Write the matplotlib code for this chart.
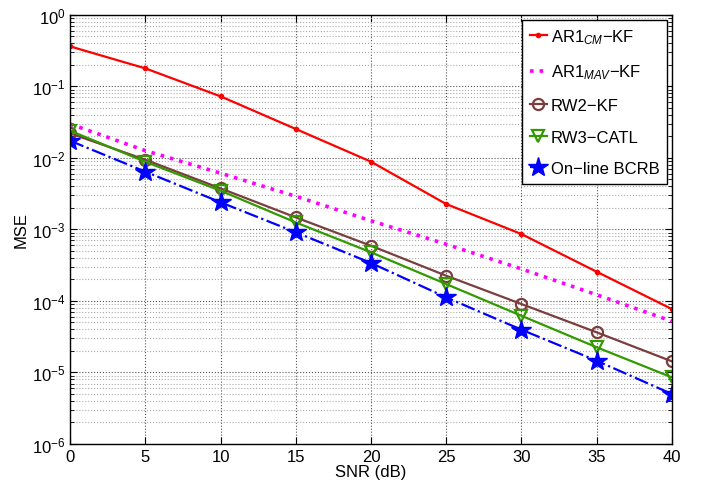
import matplotlib.pyplot as plt
import numpy as np

plt.rcParams['font.family'] = ['Liberation Sans', 'DejaVu Sans']
plt.rcParams['mathtext.fontset'] = 'custom'
plt.rcParams['mathtext.it'] = 'Liberation Sans:italic'
plt.rcParams['mathtext.rm'] = 'Liberation Sans'

# Data
snr = [0, 5, 10, 15, 20, 25, 30, 35, 40]
ar1_cm = [0.361, 0.178, 0.0723, 0.0253, 0.00883, 0.00226, 8.6e-4, 2.56e-4, 7.7e-5]
ar1_mav = [0.0297, 0.0126, 6.1e-3, 2.9e-3, 1.32e-3, 6.2e-4, 2.8e-4, 1.22e-4, 5.2e-5]
rw2_kf = [0.022, 9.4e-3, 3.74e-3, 1.47e-3, 5.9e-4, 2.25e-4, 9.05e-5, 3.64e-5, 1.43e-5]
rw3_catl = [0.0239, 8.8e-3, 3.47e-3, 1.25e-3, 4.78e-4, 1.72e-4, 6.2e-5, 2.25e-5, 8.55e-6]
bcrb = [0.0173, 6.4e-3, 2.39e-3, 9.1e-4, 3.39e-4, 1.12e-4, 3.96e-5, 1.46e-5, 5.0e-6]

fig = plt.figure(figsize=(7.02, 4.85), dpi=100)
ax = fig.add_axes([0.1, 0.0825, 0.857, 0.885])

ax.semilogy(snr, ar1_cm, '-', color='red', lw=1.6, marker='.', ms=6,
            label='AR1$_{CM}$\u2212KF')
ax.semilogy(snr, ar1_mav, ':', color='magenta', lw=2.6,
            label='AR1$_{MAV}$\u2212KF')
ax.semilogy(snr, rw2_kf, '-', color='#7a3e3e', lw=1.6, marker='o', ms=8,
            mfc='none', mew=1.6, label='RW2\u2212KF')
ax.semilogy(snr, rw3_catl, '-', color='#339900', lw=1.6, marker='v', ms=9,
            mfc='none', mew=1.6, label='RW3\u2212CATL')
ax.semilogy(snr, bcrb, '-.', color='blue', lw=1.6, marker='*', ms=15,
            label='On\u2212line BCRB')

ax.set_xlim(0, 40)
ax.set_ylim(1e-6, 1)
ax.set_xticks(snr)
ax.set_xlabel('SNR (dB)', fontsize=12, labelpad=0)
ax.set_ylabel('MSE', fontsize=12, labelpad=2)
ax.tick_params(which='both', direction='in', top=True, right=True, labelsize=12)
ax.tick_params(which='major', length=5)
ax.tick_params(which='minor', length=3)

ax.grid(True, which='major', color='#555555', linestyle=':', lw=0.8)
ax.grid(True, which='minor', axis='y', color='#aaaaaa', linestyle=':', lw=0.8)
for s in ax.spines.values():
    s.set_linewidth(1.0)

leg = ax.legend(loc='upper right', fontsize=12, fancybox=False, framealpha=1,
                edgecolor='black', handlelength=1.05, handletextpad=0.2,
                borderpad=0.45, labelspacing=1.0, borderaxespad=0.3)
leg.get_frame().set_linewidth(1.0)

fig.savefig('out.png', dpi=100)
